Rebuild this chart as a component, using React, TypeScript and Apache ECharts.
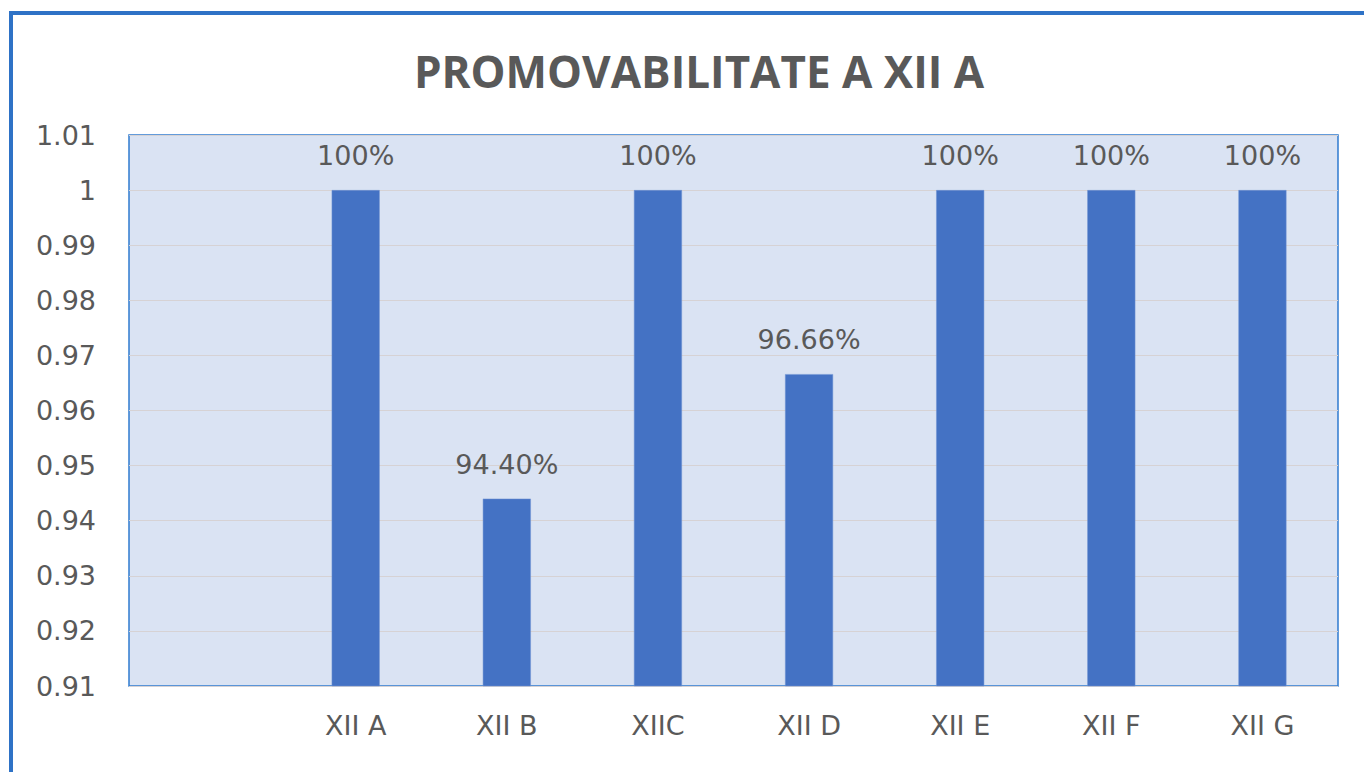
import React, { useEffect, useRef } from "react";
import * as echarts from "echarts";

const categories = ["", "XII A", "XII B", "XIIC", "XII D", "XII E", "XII F", "XII G"];
const values: (number | null)[] = [null, 1, 0.944, 1, 0.9666, 1, 1, 1];
const valueLabels = ["", "100%", "94.40%", "100%", "96.66%", "100%", "100%", "100%"];
const yTicks = { min: 0.91, max: 1.01, interval: 0.01 };
const titleText = "PROMOVABILITATE A XII A";

export default function App() {
  const ref = useRef<HTMLDivElement>(null);
  useEffect(() => {
    if (!ref.current) return;
    const chart = echarts.init(ref.current, undefined, { renderer: "svg" });
    const font = "'DejaVu Sans', 'Open Sans', sans-serif";
    const titleFont = "'Open Sans', 'Liberation Sans', sans-serif";
    chart.setOption({
      animation: false,
      backgroundColor: "#ffffff",
      title: {
        text: titleText,
        left: 694,
        top: 44,
        textAlign: "center",
        textStyle: { fontFamily: titleFont, fontSize: 44, fontWeight: "bold", color: "#595959" },
      },
      graphic: [
        {
          type: "rect",
          shape: { x: 11, y: 13, width: 1400, height: 800 },
          style: { fill: "none", stroke: "#2E72C6", lineWidth: 4 },
          z: 100,
        },
      ],
      grid: {
        left: 129,
        top: 135,
        right: 26,
        bottom: 86,
        show: true,
        backgroundColor: "#DAE3F3",
        borderColor: "#2F7BCF",
        borderWidth: 1.5,
        containLabel: false,
      },
      xAxis: {
        type: "category",
        data: categories,
        axisLine: { show: false },
        axisTick: { show: false },
        axisLabel: { fontFamily: font, fontSize: 27, color: "#595959", margin: 26, interval: 0 },
        splitLine: { show: false },
      },
      yAxis: {
        type: "value",
        min: yTicks.min,
        max: yTicks.max,
        interval: yTicks.interval,
        axisLine: { show: false },
        axisTick: { show: false },
        axisLabel: {
          fontFamily: font,
          fontSize: 27,
          color: "#595959",
          margin: 33,
          formatter: (v: number) => String(Math.round(v * 100) / 100),
        },
        splitLine: { show: true, lineStyle: { color: "#D6D2D4", width: 1 } },
      },
      series: [
        {
          type: "bar",
          data: values,
          barWidth: 48,
          itemStyle: { color: "#4472C4", borderColor: "#6E92D2", borderWidth: 0.5 },
          label: {
            show: true,
            position: "top",
            distance: 21,
            fontFamily: font,
            fontSize: 27,
            color: "#595959",
            formatter: (p: any) => valueLabels[p.dataIndex],
          },
        },
      ],
    });
    return () => chart.dispose();
  }, []);
  return (
    <div
      ref={ref}
      style={{ position: "fixed", left: 0, top: 0, width: 1364, height: 772 }}
    />
  );
}
